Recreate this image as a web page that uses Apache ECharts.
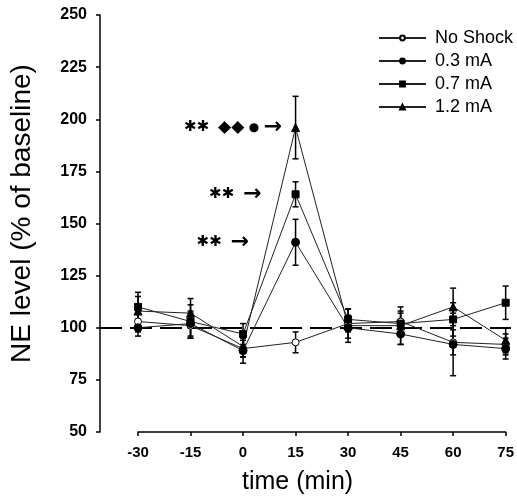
<!DOCTYPE html>
<html><head><meta charset="utf-8">
<script src="https://cdn.jsdelivr.net/npm/echarts@6/dist/echarts.min.js"></script>
<style>html,body{margin:0;padding:0;background:#fff}#c{width:517px;height:503px}</style>
</head><body><div id="c"></div>
<script>
const times = [-30, -15, 0, 15, 30, 45, 60, 75];
const seriesNames = ['No Shock', '0.3 mA', '0.7 mA', '1.2 mA'];
const noShock    = [103, 101, 90, 93, 102, 103, 93, 92];
const noShockErr = [5, 6, 4, 5, 4, 5, 6, 5];
const mA03       = [100, 102, 89, 141, 100, 97, 92, 90];
const mA03Err    = [4, 6, 6, 11, 5, 5, 15, 5];
const mA07       = [110, 103, 97, 164, 104, 102, 104, 112];
const mA07Err    = [7, 8, 5, 6, 5, 5, 8, 8];
const mA12       = [108, 107, 91, 196, 101, 101, 110, 94];
const mA12Err    = [7, 7, 5, 15, 8, 9, 9, 6];
const yMin = 50, yMax = 250, yStep = 25;
const xMin = -30, xMax = 75, xStep = 15;
const baseline = 100;
const annotTime = 15;
const annotations = ['', '{s|✱✱}  {a|→}', '{s|✱✱}  {a|→}', '{s|✱✱}  {d|◆◆} {c|●} {a|→}'];
const annotDist = [0, 42, 30, 9];

const values = [noShock, mA03, mA07, mA12];
const errors = [noShockErr, mA03Err, mA07Err, mA12Err];
const symbols = ['circle', 'circle', 'rect', 'triangle'];
const fills = ['#fff', '#000', '#000', '#000'];
const sizes = [7, 8, 7, 8];

const chart = echarts.init(document.getElementById('c'));
const series = [];
values.forEach((vals, i) => {
  series.push({
    type: 'custom', xAxisIndex: 1, yAxisIndex: 1, silent: true, z: 3,
    data: times.map((t, k) => [t, vals[k] - errors[i][k], vals[k] + errors[i][k]]),
    encode: { x: 0, y: [1, 2] },
    renderItem: function (params, api) {
      const x = api.value(0);
      const p1 = api.coord([x, api.value(1)]);
      const p2 = api.coord([x, api.value(2)]);
      const st = { stroke: '#000', lineWidth: 1.5 };
      const c = 3;
      return { type: 'group', children: [
        { type: 'line', shape: { x1: p1[0], y1: p1[1], x2: p2[0], y2: p2[1] }, style: st },
        { type: 'line', shape: { x1: p1[0] - c, y1: p1[1], x2: p1[0] + c, y2: p1[1] }, style: st },
        { type: 'line', shape: { x1: p2[0] - c, y1: p2[1], x2: p2[0] + c, y2: p2[1] }, style: st }
      ]};
    }
  });
});
const rich = {
  s: { fontSize: 15, fontWeight: 'bold', fontFamily: 'DejaVu Sans', color: '#000' },
  d: { fontSize: 17, fontFamily: 'DejaVu Sans', color: '#000' },
  c: { fontSize: 12, fontFamily: 'DejaVu Sans', color: '#000' },
  a: { fontSize: 22, fontWeight: 'bold', fontFamily: 'DejaVu Sans', color: '#000' }
};
values.forEach((vals, i) => {
  series.push({
    name: seriesNames[i], type: 'line', xAxisIndex: 1, yAxisIndex: 1, z: 5,
    symbol: symbols[i], symbolSize: sizes[i], showAllSymbol: true,
    lineStyle: { color: '#222', width: 1 },
    itemStyle: { color: fills[i], borderColor: '#000', borderWidth: 1 },
    data: times.map((t, k) => {
      const item = { value: [t, vals[k]] };
      if (t === annotTime && annotations[i]) {
        item.label = { show: true, position: 'left', distance: annotDist[i],
          formatter: annotations[i], color: '#000', fontSize: 14,
          fontFamily: 'DejaVu Sans', rich: rich };
      }
      return item;
    })
  });
});
series.push({
  type: 'line', xAxisIndex: 0, yAxisIndex: 0, data: [], silent: true,
  markLine: { silent: true, symbol: 'none', label: { show: false },
    lineStyle: { color: '#000', type: [22, 8], width: 2 },
    data: [{ yAxis: baseline }] }
});

chart.setOption({
  animation: false,
  backgroundColor: '#fff',
  textStyle: { fontFamily: 'Liberation Sans, Arial, sans-serif' },
  grid: [
    { left: 90, right: 6, top: 15, bottom: 71 },
    { left: 138, right: 10, top: 15, bottom: 71 }
  ],
  xAxis: [
    { gridIndex: 0, type: 'value', min: 0, max: 1, show: false },
    { gridIndex: 1, type: 'value', min: xMin, max: xMax, interval: xStep,
      axisLine: { lineStyle: { color: '#000', width: 1.5 } },
      axisTick: { inside: false, length: 4, lineStyle: { color: '#000', width: 1.5 } },
      axisLabel: { color: '#000', fontSize: 15, fontWeight: 'bold', margin: 13 },
      splitLine: { show: false } }
  ],
  yAxis: [
    { gridIndex: 0, type: 'value', min: yMin, max: yMax, interval: yStep, offset: 6,
      name: 'NE level (% of baseline)', nameLocation: 'middle', nameGap: 58,
      nameTextStyle: { color: '#000', fontSize: 28, padding: [0, 0, 0, 20] },
      axisLine: { show: true, lineStyle: { color: '#000', width: 1.5 } },
      axisTick: { show: true, length: 4, lineStyle: { color: '#000', width: 1.5 } },
      axisLabel: { color: '#000', fontSize: 16, fontWeight: 'bold', margin: 7 },
      splitLine: { show: false } },
    { gridIndex: 1, type: 'value', min: yMin, max: yMax, interval: yStep, show: false }
  ],
  legend: {
    orient: 'vertical', left: 373, top: 24, itemGap: 5,
    itemWidth: 47, itemHeight: 6,
    data: seriesNames,
    textStyle: { color: '#000', fontSize: 18, lineHeight: 18, padding: [0, 0, 0, 4] }
  },
  graphic: [
    { type: 'text', left: 242, top: 470,
      style: { text: 'time (min)', fontSize: 25, fill: '#000', fontFamily: 'Liberation Sans, Arial, sans-serif' } }
  ],
  series: series
});
</script></body></html>
